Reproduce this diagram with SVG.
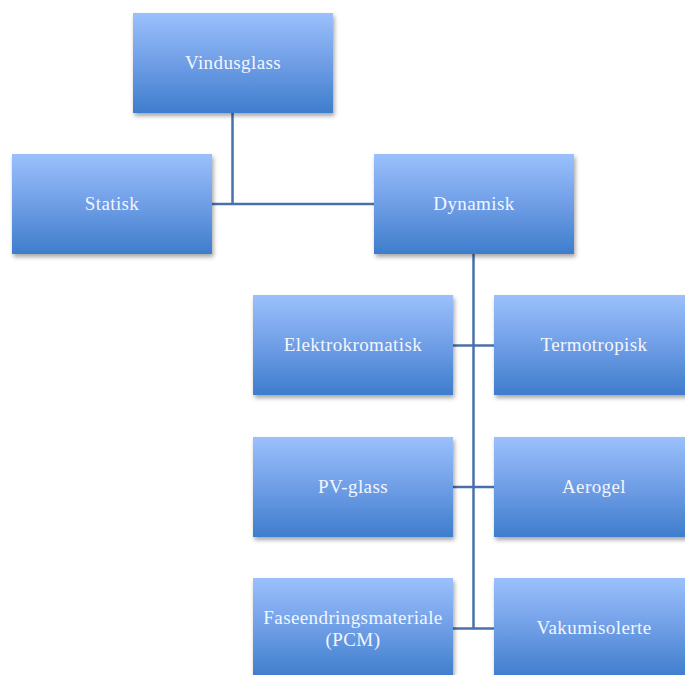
<svg xmlns="http://www.w3.org/2000/svg" width="685" height="675" viewBox="0 0 685 675">
  <defs>
    <linearGradient id="boxFill" x1="0" y1="0" x2="0" y2="1">
      <stop offset="0" stop-color="#9BC0FC"/>
      <stop offset="0.5" stop-color="#6F9EE6"/>
      <stop offset="1" stop-color="#3E7DCD"/>
    </linearGradient>
    <filter id="shadow" x="-10%" y="-10%" width="125%" height="130%">
      <feDropShadow dx="1.5" dy="3" stdDeviation="2" flood-color="#000" flood-opacity="0.35"/>
    </filter>
  </defs>
  <style>
    .box { fill: url(#boxFill); filter: url(#shadow); }
    .label { font-family: "Liberation Serif", "DejaVu Serif", serif; font-size: 19px; letter-spacing: 0.4px; fill: #F2F6FF; text-anchor: middle; }
    .conn { stroke: #4970A8; stroke-width: 2.5; fill: none; }
  </style>
  <rect width="685" height="675" fill="#fff"/>

  <g id="connectors">
    <path class="conn" d="M232.5 113 V204"/>
    <path class="conn" d="M212 204 H374"/>
    <path class="conn" d="M473.5 254 V628.5"/>
    <path class="conn" d="M453 345.5 H494"/>
    <path class="conn" d="M453 487 H494"/>
    <path class="conn" d="M453 628.5 H494"/>
  </g>

  <g id="vindusglass">
    <rect class="box" x="133" y="13" width="200" height="100"/>
    <text class="label" x="233" y="69">Vindusglass</text>
  </g>
  <g id="statisk">
    <rect class="box" x="12" y="154" width="200" height="100"/>
    <text class="label" x="112" y="210">Statisk</text>
  </g>
  <g id="dynamisk">
    <rect class="box" x="374" y="154" width="200" height="100"/>
    <text class="label" x="474" y="210">Dynamisk</text>
  </g>
  <g id="elektrokromatisk">
    <rect class="box" x="253" y="295" width="200" height="100"/>
    <text class="label" x="353" y="351">Elektrokromatisk</text>
  </g>
  <g id="termotropisk">
    <rect class="box" x="494" y="295" width="200" height="100"/>
    <text class="label" x="594" y="351">Termotropisk</text>
  </g>
  <g id="pv-glass">
    <rect class="box" x="253" y="437" width="200" height="100"/>
    <text class="label" x="353" y="493">PV-glass</text>
  </g>
  <g id="aerogel">
    <rect class="box" x="494" y="437" width="200" height="100"/>
    <text class="label" x="594" y="493">Aerogel</text>
  </g>
  <g id="faseendringsmateriale">
    <rect class="box" x="253" y="578" width="200" height="100"/>
    <text class="label" x="353" y="624">Faseendringsmateriale</text>
    <text class="label" x="353" y="646">(PCM)</text>
  </g>
  <g id="vakumisolerte">
    <rect class="box" x="494" y="578" width="200" height="100"/>
    <text class="label" x="594" y="634">Vakumisolerte</text>
  </g>
</svg>
